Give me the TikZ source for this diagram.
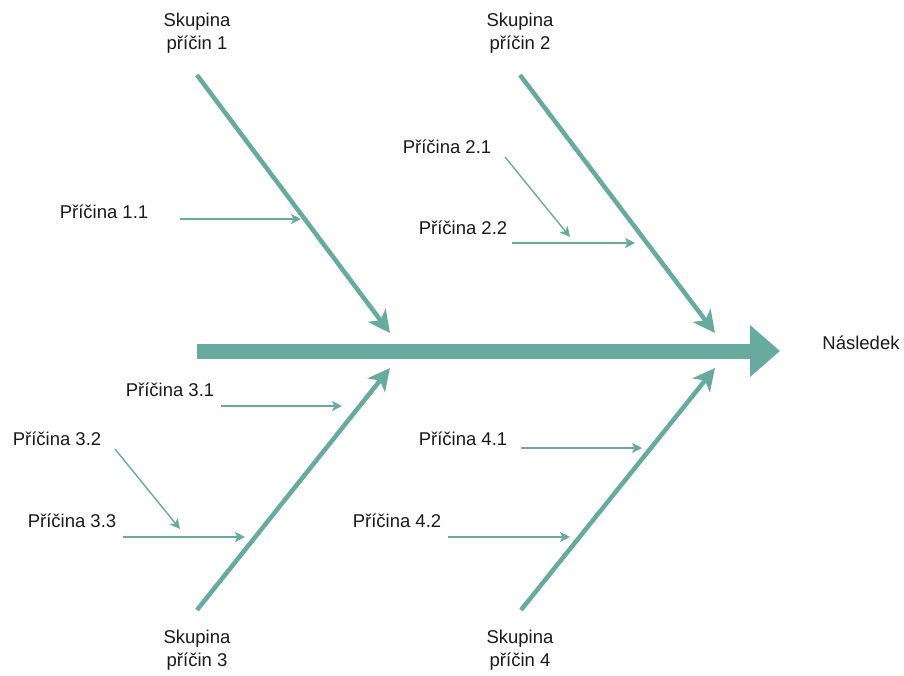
\documentclass[tikz,border=0pt]{standalone}
\usepackage{fontspec}
\setmainfont{Liberation Sans}
\usetikzlibrary{arrows.meta}
\definecolor{bone}{HTML}{67AB9F}
\definecolor{ink}{HTML}{1A1A1A}
\begin{document}
\begin{tikzpicture}[x=1pt,y=-1pt,
  lbl/.style={text=ink,font=\fontsize{18.5}{23}\selectfont,inner sep=0pt,align=center},
  spine/.style={draw=bone,line width=15pt,-{Triangle[length=30pt,width=50pt]}},
  majorbone/.style={draw=bone,line width=4.5pt,-{Stealth[length=22pt,width=22pt,inset=6pt]}},
  minorbone/.style={draw=bone,line width=1.4pt,-{Stealth[length=10pt,width=10pt,inset=2.5pt]}}]
\useasboundingbox (0,0) rectangle (904,675);
\fill[white] (0,0) rectangle (904,675);

% main spine and effect
\coordinate (s0) at (197,351);
\coordinate (s1) at (780,351);
\draw[spine] (s0) -- (s1);
\node[lbl] (effect) at (861,343) {Následek};

% cause groups
\coordinate (g1a) at (197,75);  \coordinate (g1b) at (390,333);
\coordinate (g2a) at (520,75);  \coordinate (g2b) at (715,333);
\coordinate (g3a) at (197,610); \coordinate (g3b) at (390,368);
\coordinate (g4a) at (521,610); \coordinate (g4b) at (715,368);
\draw[majorbone] (g1a) -- (g1b);
\draw[majorbone] (g2a) -- (g2b);
\draw[majorbone] (g3a) -- (g3b);
\draw[majorbone] (g4a) -- (g4b);

\node[lbl] (grp1) at (197,33) {Skupina\\příčin 1};
\node[lbl] (grp2) at (520,33) {Skupina\\příčin 2};
\node[lbl] (grp3) at (197,650) {Skupina\\příčin 3};
\node[lbl] (grp4) at (520,650) {Skupina\\příčin 4};

% individual causes
\node[lbl] (c11) at (104,212) {Příčina 1.1};
\node[lbl] (c21) at (447,147) {Příčina 2.1};
\node[lbl] (c22) at (463,228) {Příčina 2.2};
\node[lbl] (c31) at (170,390) {Příčina 3.1};
\node[lbl] (c32) at (57,439)  {Příčina 3.2};
\node[lbl] (c33) at (72,521)  {Příčina 3.3};
\node[lbl] (c41) at (463,439) {Příčina 4.1};
\node[lbl] (c42) at (397,521) {Příčina 4.2};

\coordinate (a11) at (180,219); \coordinate (b11) at (301,219);
\coordinate (a21) at (505,157); \coordinate (b21) at (570,237);
\coordinate (a22) at (512,243); \coordinate (b22) at (635,243);
\coordinate (a31) at (221,406); \coordinate (b31) at (342,406);
\coordinate (a32) at (115,449); \coordinate (b32) at (180,529);
\coordinate (a33) at (123,537); \coordinate (b33) at (245,537);
\coordinate (a41) at (521,448); \coordinate (b41) at (642,448);
\coordinate (a42) at (448,537); \coordinate (b42) at (570,537);
\foreach \k in {11,21,22,31,32,33,41,42}
  \draw[minorbone] (a\k) -- (b\k);
\end{tikzpicture}
\end{document}
